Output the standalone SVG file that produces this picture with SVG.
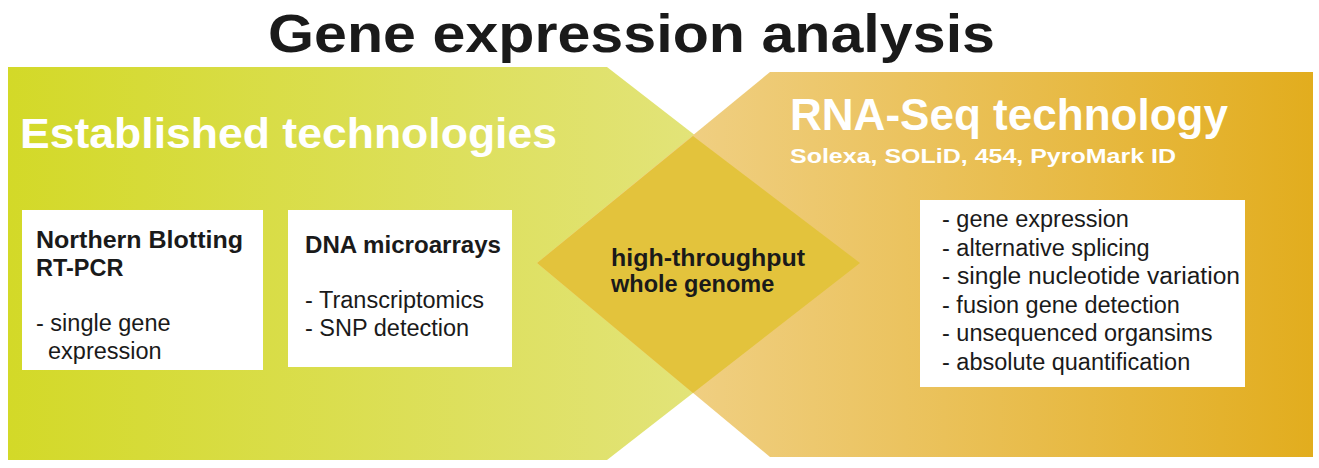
<svg xmlns="http://www.w3.org/2000/svg" width="1319" height="468" viewBox="0 0 1319 468">
<defs>
<linearGradient id="gl" x1="8" y1="0" x2="860" y2="0" gradientUnits="userSpaceOnUse"><stop offset="0" stop-color="#d3d928"/><stop offset="1" stop-color="#e6e68c"/></linearGradient>
<linearGradient id="gr" x1="537" y1="0" x2="1313" y2="0" gradientUnits="userSpaceOnUse"><stop offset="0" stop-color="#f3d79a"/><stop offset="1" stop-color="#e2ad1e"/></linearGradient>
</defs>
<style>
text{font-family:"Liberation Sans",Arial,sans-serif;fill:#1a1a1a}
.b{font-weight:bold}
.w{fill:#fff;font-weight:bold}
.t{font-size:23.5px}
.box{fill:#fff}
</style>
<rect width="1319" height="468" fill="#fff"/>
<g id="left"><polygon points="8,67 607,67 860,263 607,460 8,460" fill="url(#gl)"/></g>
<g id="right"><polygon points="770,72 1313,72 1313,457 770,457 537,263" fill="url(#gr)"/></g>
<g id="overlap"><polygon points="693,136 860,263 693,393 537,263" fill="#e3c33c"/></g>
<text x="268" y="52" class="b" font-size="54" textLength="727" lengthAdjust="spacingAndGlyphs">Gene expression analysis</text>
<text x="20" y="148" class="w" font-size="42" textLength="537" lengthAdjust="spacingAndGlyphs">Established technologies</text>
<text x="790" y="130" class="w" font-size="44" textLength="438" lengthAdjust="spacingAndGlyphs">RNA-Seq technology</text>
<text x="790" y="163" class="w" font-size="21" textLength="386" lengthAdjust="spacingAndGlyphs">Solexa, SOLiD, 454, PyroMark ID</text>
<g id="box1"><rect class="box" x="22" y="210" width="241" height="160"/>
<text x="36" y="248" class="b t" textLength="207" lengthAdjust="spacingAndGlyphs">Northern Blotting</text>
<text x="36" y="276" class="b t">RT-PCR</text>
<text x="36" y="331" class="t">- single gene</text>
<text x="48" y="359" class="t">expression</text></g>
<g id="box2"><rect class="box" x="288" y="210" width="224" height="157"/>
<text x="305" y="253" class="b t" textLength="196" lengthAdjust="spacingAndGlyphs">DNA microarrays</text>
<text x="305" y="308" class="t">- Transcriptomics</text>
<text x="305" y="336" class="t">- SNP detection</text></g>
<g id="center"><text x="611" y="266" class="b t" textLength="194" lengthAdjust="spacingAndGlyphs">high-throughput</text>
<text x="611" y="292" class="b t">whole genome</text></g>
<g id="box3"><rect class="box" x="920" y="200" width="325" height="187"/>
<text class="t" x="942" y="227">- gene expression</text>
<text class="t" x="942" y="256">- alternative splicing</text>
<text class="t" x="942" y="284" textLength="298" lengthAdjust="spacingAndGlyphs">- single nucleotide variation</text>
<text class="t" x="942" y="313">- fusion gene detection</text>
<text class="t" x="942" y="341">- unsequenced organsims</text>
<text class="t" x="942" y="370">- absolute quantification</text></g>
<g id="connectors"/>
</svg>
